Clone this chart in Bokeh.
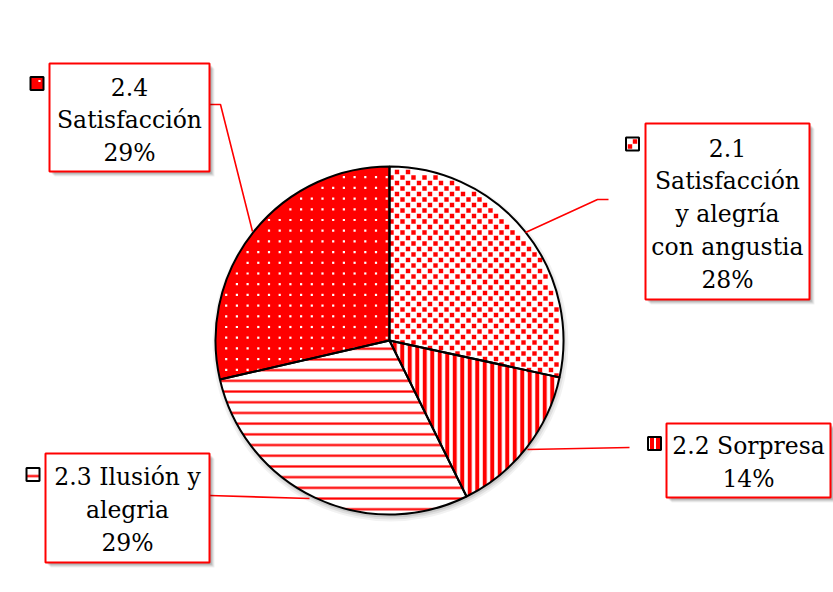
import numpy as np
from bokeh.plotting import figure
from bokeh.models import Range1d
from bokeh.embed import file_html
from bokeh.resources import INLINE
from bokeh.core.properties import value

# ---- data ----
categories = ["2.1 Satisfacción y alegría con angustia", "2.2 Sorpresa",
              "2.3 Ilusión y alegria", "2.4 Satisfacción"]
label_lines = [["2.1", "Satisfacción", "y alegría", "con angustia"],
               ["2.2 Sorpresa"],
               ["2.3 Ilusión y", "alegria"],
               ["2.4", "Satisfacción"]]
shares = [28.4, 14.3, 28.7, 28.6]

# ---- styles (per slice) ----
RED = "#FF0000"
fills = ["white", "white", "white", RED]
hatches = [None, "vertical_line", "horizontal_line", None]
hatch_scales = [1, 7.5, 10.7, 1]
hatch_weights = [1, 4, 2.2, 1]
# texture drawn with markers: (marker colour, marker size, x step, y step, stagger)
textures = [(RED, 4.4, 11.0, 5.5, True), None, None, ("white", 2.2, 10.7, 10.7, False)]

# ---- layout (screen px) ----
W, H = 833, 592
def Y(py):
    return H - py

cx, cy, R = 389, 340, 174
boxes = [(645, 123, 809, 299), (666, 423, 830, 497), (45, 453, 209, 562), (49, 63, 209, 171)]
keys = [(632, 143.5), (654, 443), (32.5, 474), (36.5, 83)]
leaders = [[(525, 232), (597, 199), (608, 199)],
           [(527, 449), (629, 447)],
           [(209, 495), (309, 498)],
           [(209, 104), (220, 104), (252, 231)]]

p = figure(width=W, height=H, x_range=Range1d(0, W), y_range=Range1d(0, H),
           output_backend="svg", toolbar_location=None, min_border=0)
p.axis.visible = False
p.grid.visible = False
p.outline_line_color = None
p.background_fill_color = "white"

# pie shadow
for dr, a in [(4, 0.05), (2, 0.07), (0, 0.10)]:
    p.circle(x=[cx + 1], y=[Y(cy + 3)], radius=R + dr, fill_color="black",
             fill_alpha=a, line_color=None)

total = float(sum(shares))
cum = np.concatenate([[0.0], np.cumsum(shares)]) / total
starts = np.pi / 2 - 2 * np.pi * cum[:-1]
ends = np.pi / 2 - 2 * np.pi * cum[1:]

# slices (fill + built-in hatch)
for i in range(len(shares)):
    kw = {}
    if hatches[i]:
        kw = dict(hatch_pattern=hatches[i], hatch_color=RED,
                  hatch_scale=hatch_scales[i], hatch_weight=hatch_weights[i])
    p.wedge(x=cx, y=Y(cy), radius=R, start_angle=starts[i], end_angle=ends[i],
            direction="clock", fill_color=fills[i], line_color=None, **kw)

# marker textures clipped to their slice
def texture_points(i, xstep, ystep, stagger):
    xs_, ys_ = [], []
    gy = np.arange(cy - R, cy + R + 1, ystep)
    for j, py in enumerate(gy):
        off = (xstep / 2) if (stagger and j % 2) else 0.0
        for px in np.arange(cx - R + off, cx + R + 1, xstep):
            dx, dy = px - cx, cy - py
            r = np.hypot(dx, dy)
            if r > R - 3:
                continue
            ang = np.arctan2(dy, dx)
            rel = (starts[i] - ang) % (2 * np.pi)
            if rel <= (starts[i] - ends[i]) and r > 0:
                xs_.append(px)
                ys_.append(Y(py))
    return xs_, ys_

for i, tex in enumerate(textures):
    if tex is None:
        continue
    col, sz, xstep, ystep, stagger = tex
    xs_, ys_ = texture_points(i, xstep, ystep, stagger)
    p.scatter(x=xs_, y=ys_, marker="square", size=sz, fill_color=col,
              line_color=None)

# slice outlines on top
for i in range(len(shares)):
    p.wedge(x=cx, y=Y(cy), radius=R, start_angle=starts[i], end_angle=ends[i],
            direction="clock", fill_color=None, line_color="black", line_width=2)

# leader lines
p.multi_line(xs=[[pt[0] for pt in l] for l in leaders],
             ys=[[Y(pt[1]) for pt in l] for l in leaders],
             line_color=RED, line_width=1.6)

FONT = value("DejaVu Serif")

# label boxes
for i, (l, t, r, b) in enumerate(boxes):
    for off, a in [(5, 0.06), (4, 0.08), (3, 0.10), (2, 0.12)]:
        p.quad(left=l + off, right=r + off, top=Y(t + off), bottom=Y(b + off),
               fill_color="black", fill_alpha=a, line_color=None)
    p.quad(left=l, right=r, top=Y(t), bottom=Y(b), fill_color="white",
           line_color=RED, line_width=2)
    lines = label_lines[i] + ["%d%%" % round(shares[i])]
    n = len(lines)
    mid = (t + b) / 2 + 2
    step = 33
    ys = [Y(mid + (k - (n - 1) / 2) * step) for k in range(n)]
    p.text(x=[(l + r) / 2] * n, y=ys, text=lines,
           text_font=FONT, text_font_size="23.5px",
           text_align="center", text_baseline="middle", text_color="black")
    # legend key
    kx, ky = keys[i]
    kw = {}
    if hatches[i]:
        kw = dict(hatch_pattern=hatches[i], hatch_color=RED,
                  hatch_scale=hatch_scales[i] * 0.8, hatch_weight=hatch_weights[i])
    p.rect(x=[kx], y=[Y(ky)], width=13, height=13, fill_color=fills[i],
           line_color="black", line_width=2, **kw)
    if textures[i] is not None:
        col, sz = textures[i][0], textures[i][1]
        if i == 0:
            p.scatter(x=[kx - 2.5, kx + 2.5], y=[Y(ky + 2.5), Y(ky - 2.5)],
                      marker="square", size=sz, fill_color=col, line_color=None)
        else:
            p.scatter(x=[kx + 2.5], y=[Y(ky - 2.5)], marker="square", size=sz,
                      fill_color=col, line_color=None)

open("out.html", "w").write(file_html(p, INLINE))
